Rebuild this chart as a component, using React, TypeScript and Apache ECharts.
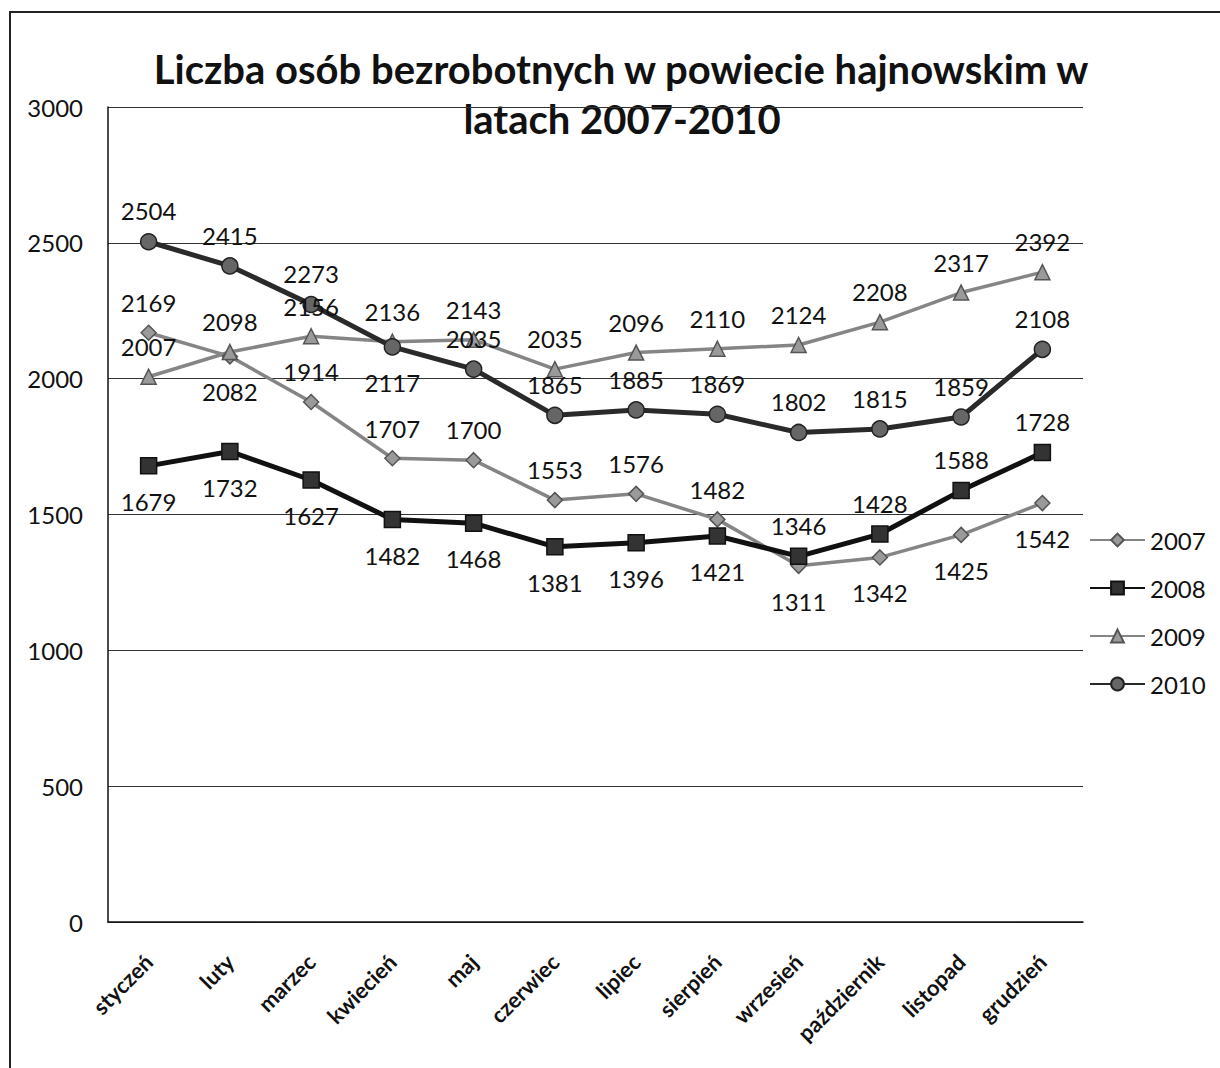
import React, { useEffect, useRef } from "react";
import * as echarts from "echarts";

const months = [
  "styczeń", "luty", "marzec", "kwiecień", "maj", "czerwiec",
  "lipiec", "sierpień", "wrzesień", "październik", "listopad", "grudzień",
];
const seriesNames = ["2007", "2008", "2009", "2010"];
const values2007 = [2169, 2082, 1914, 1707, 1700, 1553, 1576, 1482, 1311, 1342, 1425, 1542];
const values2008 = [1679, 1732, 1627, 1482, 1468, 1381, 1396, 1421, 1346, 1428, 1588, 1728];
const values2009 = [2007, 2098, 2156, 2136, 2143, 2035, 2096, 2110, 2124, 2208, 2317, 2392];
const values2010 = [2504, 2415, 2273, 2117, 2035, 1865, 1885, 1869, 1802, 1815, 1859, 2108];
const titleLines = ["Liczba osób bezrobotnych w powiecie hajnowskim w", "latach 2007-2010"];

// label placement (indices whose label sits below the marker)
const below2007 = [1, 8, 9, 10, 11];
const below2008 = [0, 1, 2, 3, 4, 5, 6, 7];
const below2009: number[] = [];
const below2010 = [3];

const FONT = "Lato, 'Open Sans', sans-serif";

function buildData(vals: number[], below: number[]) {
  return vals.map((v, i) =>
    below.includes(i)
      ? { value: v, label: { position: "bottom", distance: 15 } }
      : { value: v }
  );
}

export default function App() {
  const ref = useRef<HTMLDivElement>(null);
  useEffect(() => {
    document.body.style.margin = "0";
    const chart = echarts.init(ref.current!, null, { renderer: "svg" });
    const labelStyle = {
      show: true,
      position: "top",
      distance: 10,
      fontSize: 24,
      fontFamily: FONT,
      color: "#111",
    };
    const mk = (
      name: string,
      vals: number[],
      below: number[],
      symbol: string,
      size: number,
      lineColor: string,
      lineWidth: number,
      fill: string,
      border: string
    ) => ({
      name,
      type: "line",
      data: buildData(vals, below),
      symbol,
      symbolSize: size,
      showAllSymbol: true,
      lineStyle: { color: lineColor, width: lineWidth },
      itemStyle: { color: fill, borderColor: border, borderWidth: 1.5 },
      label: labelStyle,
      emphasis: { disabled: true },
    });
    chart.setOption({
      animation: false,
      backgroundColor: "#fff",
      grid: { left: 108, right: 137, top: 107, bottom: 146, containLabel: false },
      legend: {
        orient: "vertical",
        left: 1089,
        top: 528,
        padding: 0,
        itemWidth: 55,
        itemHeight: 16,
        itemGap: 24,
        textStyle: { fontSize: 24, lineHeight: 24, fontFamily: FONT, color: "#111" },
        data: seriesNames,
      },
      xAxis: {
        type: "category",
        data: months,
        boundaryGap: true,
        axisLine: { lineStyle: { color: "#111", width: 1.5 } },
        axisTick: { show: false },
        axisLabel: {
          rotate: 45,
          interval: 0,
          margin: 36,
          fontSize: 22,
          fontWeight: "bold",
          fontFamily: FONT,
          color: "#111",
        },
      },
      yAxis: {
        type: "value",
        min: 0,
        max: 3000,
        interval: 500,
        axisLine: { show: true, lineStyle: { color: "#111", width: 1.5 } },
        axisTick: { show: false },
        splitLine: { lineStyle: { color: "#333", width: 1 } },
        axisLabel: {
          margin: 25,
          fontSize: 24,
          fontFamily: FONT,
          color: "#111",
          formatter: (v: number) => String(v),
        },
      },
      graphic: [
        {
          type: "rect",
          shape: { x: 10, y: 12, width: 1240, height: 1100 },
          style: { fill: "none", stroke: "#222", lineWidth: 2 },
          silent: true,
        },
        {
          type: "text",
          x: 621,
          y: 69,
          style: {
            text: titleLines[0],
            fontSize: 40,
            fontWeight: "bold",
            fontFamily: FONT,
            fill: "#111",
            textAlign: "center",
            textVerticalAlign: "middle",
          },
        },
        {
          type: "text",
          x: 622,
          y: 119,
          style: {
            text: titleLines[1],
            fontSize: 40,
            fontWeight: "bold",
            fontFamily: FONT,
            fill: "#111",
            textAlign: "center",
            textVerticalAlign: "middle",
          },
        },
      ],
      series: [
        mk(seriesNames[0], values2007, below2007, "diamond", 15, "#858585", 3.5, "#9a9a9a", "#555"),
        mk(seriesNames[1], values2008, below2008, "rect", 16, "#111", 5, "#333", "#111"),
        mk(seriesNames[2], values2009, below2009, "triangle", 15, "#858585", 3.5, "#9a9a9a", "#555"),
        mk(seriesNames[3], values2010, below2010, "circle", 16, "#2a2a2a", 5, "#666", "#222"),
      ],
    });
    return () => chart.dispose();
  }, []);
  return <div ref={ref} style={{ width: 1220, height: 1068 }} />;
}
